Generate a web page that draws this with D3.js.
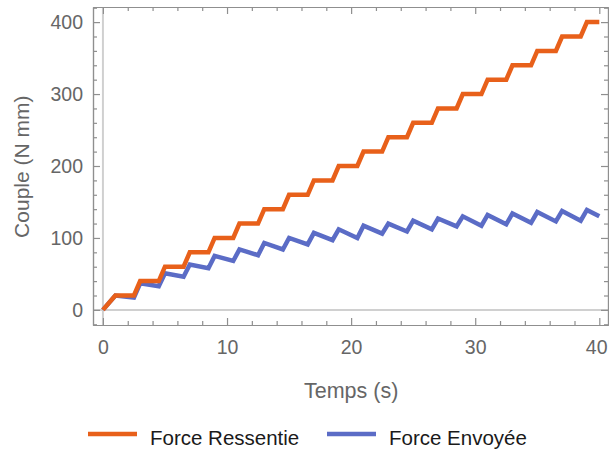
<!DOCTYPE html>
<html>
<head>
<meta charset="utf-8">
<script src="https://cdn.jsdelivr.net/npm/d3@7"></script>
<style>
  html, body { margin: 0; padding: 0; background: #fff; }
  svg { display: block; font-family: "Liberation Sans", Arial, sans-serif; }
</style>
</head>
<body>
<svg id="chart" width="609" height="452"></svg>
<script>
// ---- data ----
const seriesNames = ["Force Ressentie", "Force Envoyée"];
const seriesColors = ["#E8601A", "#5B6CC6"];
// Force Ressentie: time (s) / torque (N mm)
const ressentieT = [0, 1, 2.5, 3, 4.5, 5, 6.5, 7, 8.5, 9, 10.5, 11, 12.5, 13, 14.5, 15, 16.5, 17, 18.5, 19, 20.5, 21, 22.5, 23, 24.5, 25, 26.5, 27, 28.5, 29, 30.5, 31, 32.5, 33, 34.5, 35, 36.5, 37, 38.5, 39, 40];
const ressentieV = [0, 20, 20, 40, 40, 60, 60, 80, 80, 100, 100, 120, 120, 140, 140, 160, 160, 180, 180, 200, 200, 220, 220, 240, 240, 260, 260, 280, 280, 300, 300, 320, 320, 340, 340, 360, 360, 380, 380, 400, 400];
// Force Envoyée
const envoyeeT = [0, 1, 2.5, 3, 4.5, 5, 6.5, 7, 8.5, 9, 10.5, 11, 12.5, 13, 14.5, 15, 16.5, 17, 18.5, 19, 20.5, 21, 22.5, 23, 24.5, 25, 26.5, 27, 28.5, 29, 30.5, 31, 32.5, 33, 34.5, 35, 36.5, 37, 38.5, 39, 40];
const envoyeeV = [0, 20, 17, 37, 33, 51, 46, 63, 58, 75, 68, 84, 76, 93, 84, 100, 91, 107, 97, 112, 100, 117, 106, 120, 109, 124, 112, 127, 116, 130, 117, 132, 119, 134, 121, 136, 123, 137.5, 124, 139, 130];
const xTicks = [0, 10, 20, 30, 40];
const yTicks = [0, 100, 200, 300, 400];
const xLabel = "Temps (s)";
const yLabel = "Couple (N mm)";

// ---- layout ----
const svg = d3.select("#chart");
const L = 93, R = 608, T = 7, B = 325;
const x = d3.scaleLinear().domain([-0.8, 40.7]).range([L, R]);
const y = d3.scaleLinear().domain([-21, 421]).range([B, T]);
const frameColor = "#8f8f8f";
const labelColor = "#666666";

// zero grid lines
svg.append("line").attr("x1", x(0)).attr("x2", x(0)).attr("y1", T).attr("y2", B)
  .attr("stroke", "#d0d0d0").attr("stroke-width", 2);
svg.append("line").attr("x1", L).attr("x2", R).attr("y1", y(0)).attr("y2", y(0))
  .attr("stroke", "#d0d0d0").attr("stroke-width", 2);

// series
const series = [
  ressentieT.map((t, i) => [t, ressentieV[i]]),
  envoyeeT.map((t, i) => [t, envoyeeV[i]])
];
const line = d3.line().x(d => x(d[0])).y(d => y(d[1]));
[1, 0].forEach(i => {
  svg.append("path").datum(series[i]).attr("d", line)
    .attr("fill", "none").attr("stroke", seriesColors[i])
    .attr("stroke-width", 4.5).attr("stroke-linejoin", "miter");
});

// frame axes with inward ticks
const xMinor = d3.range(0, 41, 2).filter(v => v % 10 !== 0);
const yMinor = d3.range(-20, 421, 20).filter(v => v % 100 !== 0);
function mkAxis(gen, scale, major, minor, transform, labels) {
  const g = svg.append("g").attr("transform", transform);
  g.call(gen(scale).tickValues(major).tickSize(-7).tickSizeOuter(0)
    .tickFormat(labels ? d3.format("d") : ""));
  g.append("g").call(gen(scale).tickValues(minor).tickSize(-4).tickSizeOuter(0).tickFormat(""));
  g.selectAll("path.domain").attr("stroke", frameColor).attr("stroke-width", 1.2);
  g.selectAll(".tick line").attr("stroke", frameColor).attr("stroke-width", 1.2);
  g.selectAll("text").attr("fill", labelColor).attr("font-size", 19.5)
    .attr("font-family", "Liberation Sans, Arial, sans-serif");
  return g;
}
const gx = mkAxis(d3.axisBottom, x, xTicks, xMinor, `translate(0,${B})`, true);
gx.selectAll(".tick text").attr("dy", "1.35em")
  .attr("text-anchor", d => d === 40 ? "end" : "middle")
  .attr("x", d => d === 40 ? 608 - x(40) - 1 : 0);
mkAxis(d3.axisTop, x, xTicks, xMinor, `translate(0,${T})`, false);
const gy = mkAxis(d3.axisLeft, y, yTicks, yMinor, `translate(${L},0)`, true);
gy.selectAll(".tick text").attr("x", -10);
mkAxis(d3.axisRight, y, yTicks, yMinor, `translate(${R},0)`, false);

// axis labels
svg.append("text").attr("x", x(20)).attr("y", 398).attr("text-anchor", "middle")
  .attr("fill", labelColor).attr("font-size", 21.5).text(xLabel);
svg.append("text").attr("transform", `translate(29,${y(199)}) rotate(-90)`)
  .attr("text-anchor", "middle").attr("fill", labelColor).attr("font-size", 21).text(yLabel);

// legend
const legX = [88, 327];
seriesNames.forEach((name, i) => {
  svg.append("line").attr("x1", legX[i]).attr("x2", legX[i] + 49)
    .attr("y1", 434).attr("y2", 434).attr("stroke", seriesColors[i]).attr("stroke-width", 4.5);
  svg.append("text").attr("x", legX[i] + 62).attr("y", 445).attr("font-size", 20.5)
    .attr("fill", "#1a1a1a").text(name);
});
</script>
</body>
</html>
